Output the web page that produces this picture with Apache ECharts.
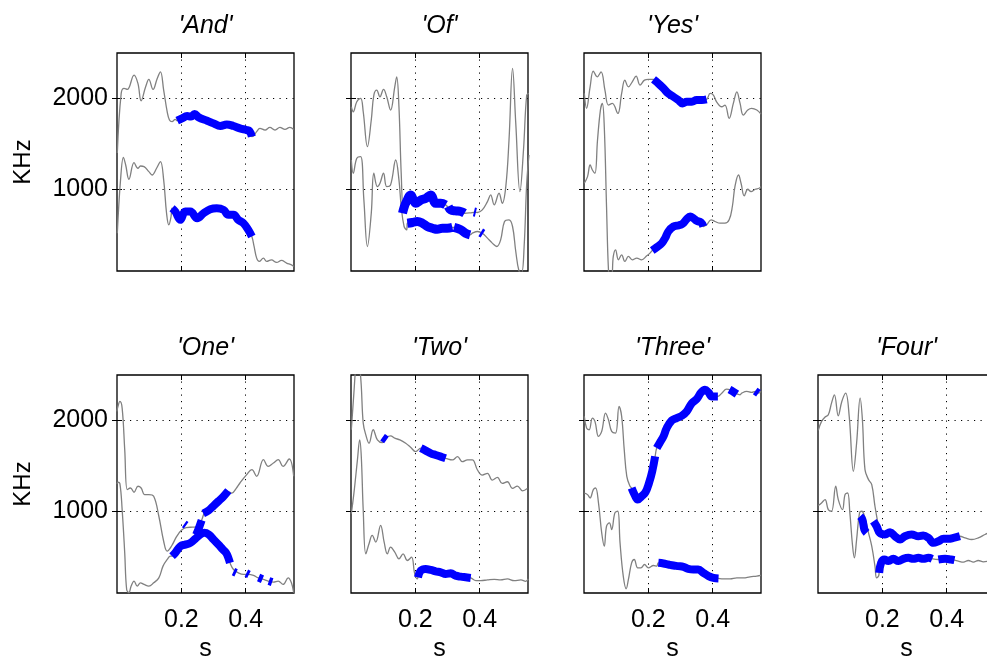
<!DOCTYPE html>
<html>
<head>
<meta charset="utf-8">
<script src="https://cdn.jsdelivr.net/npm/echarts@6/dist/echarts.min.js"></script>
<style>html,body{margin:0;padding:0;background:#fff}#c{width:987px;height:660px}</style>
</head>
<body>
<div id="c"></div>
<script>
// ---- tick labels / categories ----
const titles = ["'And'", "'Of'", "'Yes'", "'One'", "'Two'", "'Three'", "'Four'"];
const xTicks = [0.2, 0.4];
const yTicks = [1000, 2000];

// ---- 'And' ----
const andF2 = [[0.001,1400],[0.013,2055],[0.022,2110],[0.032,2099],[0.053,2256],[0.065,2165],[0.075,1974],[0.089,2128],[0.099,2209],[0.112,2099],[0.125,2220],[0.135,2293],[0.145,2092],[0.156,1853],[0.163,1762],[0.171,1744],[0.181,1769],[0.187,1755],[0.202,1780],[0.218,1806],[0.241,1828],[0.254,1791],[0.280,1755],[0.300,1725],[0.321,1696],[0.341,1714],[0.362,1696],[0.382,1670],[0.403,1652],[0.419,1579],[0.424,1585],[0.434,1634],[0.444,1670],[0.460,1652],[0.475,1681],[0.491,1652],[0.506,1681],[0.522,1659],[0.537,1681],[0.549,1659]];
const andF1 = [[0.001,516],[0.011,1103],[0.020,1352],[0.027,1267],[0.037,1110],[0.053,1293],[0.065,1231],[0.073,1256],[0.084,1249],[0.099,1194],[0.109,1157],[0.123,1231],[0.135,1304],[0.145,1103],[0.154,736],[0.161,608],[0.168,700],[0.171,791],[0.181,755],[0.197,663],[0.212,755],[0.228,755],[0.249,681],[0.269,736],[0.290,780],[0.310,791],[0.331,773],[0.346,718],[0.362,718],[0.377,663],[0.393,626],[0.408,553],[0.419,480],[0.426,370],[0.434,242],[0.442,205],[0.455,242],[0.465,205],[0.480,223],[0.496,194],[0.511,216],[0.527,187],[0.542,168],[0.549,150]];
const andB2 = [[0.187,1755],[0.202,1780],[0.218,1806],[0.230,1800],[0.241,1828],[0.254,1791],[0.280,1755],[0.300,1725],[0.321,1696],[0.341,1714],[0.362,1696],[0.382,1670],[0.403,1652],[0.412,1640],[0.419,1579]];
const andB1 = [[0.171,791],[0.181,755],[0.197,663],[0.212,755],[0.228,755],[0.249,681],[0.269,736],[0.290,780],[0.310,791],[0.331,773],[0.346,718],[0.362,718],[0.377,663],[0.393,626],[0.408,553],[0.419,480]];

// ---- 'Of' ----
const ofF2 = [[0.001,1908],[0.007,1853],[0.018,1963],[0.030,2000],[0.038,1853],[0.051,1469],[0.063,1762],[0.071,2037],[0.080,2092],[0.090,2018],[0.101,2099],[0.111,2018],[0.123,1872],[0.136,2128],[0.142,2238],[0.149,1908],[0.156,1176],[0.163,773],[0.170,846],[0.186,938],[0.201,846],[0.218,883],[0.233,901],[0.248,938],[0.263,846],[0.279,846],[0.294,828],[0.310,773],[0.325,762],[0.341,755],[0.353,736],[0.370,740],[0.385,747],[0.393,744],[0.408,773],[0.424,864],[0.434,938],[0.445,828],[0.460,956],[0.470,846],[0.481,1029],[0.491,1542],[0.502,2330],[0.512,1725],[0.525,974],[0.536,1432],[0.546,2037],[0.553,2055]];
const ofF1 = [[0.001,1322],[0.007,1176],[0.018,1341],[0.030,1359],[0.040,883],[0.051,370],[0.063,736],[0.071,1176],[0.082,1029],[0.090,1066],[0.101,1176],[0.111,1029],[0.123,1048],[0.139,1322],[0.149,1103],[0.156,810],[0.165,590],[0.173,553],[0.175,626],[0.191,634],[0.206,645],[0.222,626],[0.237,590],[0.253,571],[0.268,560],[0.284,571],[0.299,571],[0.315,579],[0.325,579],[0.341,553],[0.356,516],[0.370,498],[0.377,516],[0.393,535],[0.408,516],[0.424,462],[0.439,407],[0.453,370],[0.465,443],[0.477,645],[0.491,663],[0.502,590],[0.512,315],[0.522,100],[0.530,80],[0.538,370],[0.546,1066],[0.553,1377]];
const ofB2 = [[0.160,736],[0.165,800],[0.170,846],[0.186,938],[0.201,846],[0.218,883],[0.233,901],[0.248,938],[0.263,846],[0.279,846],[0.294,828],null,[0.302,810],[0.310,773],[0.325,762],[0.341,755],[0.353,736],null,[0.382,750],[0.388,745]];
const ofB1 = [[0.175,626],[0.191,634],[0.206,645],[0.222,626],[0.237,590],[0.253,571],[0.268,560],[0.284,571],[0.299,571],[0.315,579],null,[0.320,580],[0.341,553],[0.356,516],[0.370,498],null,[0.403,525],[0.410,510]];

// ---- 'Yes' ----
const yesF2 = [[0.001,2055],[0.008,1890],[0.019,2128],[0.029,2300],[0.041,2238],[0.053,2293],[0.065,2092],[0.076,1927],[0.088,1945],[0.105,1835],[0.117,2055],[0.127,2201],[0.138,2128],[0.150,2183],[0.162,2245],[0.174,2147],[0.188,2201],[0.200,2209],[0.216,2209],[0.231,2165],[0.247,2110],[0.262,2055],[0.278,2018],[0.293,1982],[0.306,1945],[0.319,1963],[0.335,1963],[0.350,1982],[0.366,1982],[0.381,1989],[0.392,2055],[0.402,2037],[0.412,1963],[0.428,1908],[0.438,1927],[0.451,1780],[0.464,1945],[0.475,2073],[0.485,1945],[0.495,1817],[0.509,1872],[0.521,1890],[0.537,1872],[0.550,1828]];
const yesF1 = [[0.001,1066],[0.011,1139],[0.019,1267],[0.026,1212],[0.034,1176],[0.042,1542],[0.051,1872],[0.057,1945],[0.063,1689],[0.070,810],[0.076,113],[0.080,50],[0.086,50],[0.091,260],[0.098,333],[0.107,223],[0.117,278],[0.127,205],[0.138,260],[0.150,223],[0.164,242],[0.179,223],[0.195,267],[0.205,297],[0.212,326],[0.226,362],[0.242,407],[0.252,462],[0.262,535],[0.278,590],[0.293,601],[0.306,619],[0.319,670],[0.330,700],[0.340,681],[0.350,652],[0.364,634],[0.371,590],[0.381,608],[0.395,663],[0.407,645],[0.423,626],[0.438,626],[0.451,663],[0.461,810],[0.469,1029],[0.480,1157],[0.488,1066],[0.498,927],[0.509,1000],[0.519,974],[0.532,1000],[0.544,1011],[0.550,1029]];
const yesB2 = [[0.216,2209],[0.231,2165],[0.247,2110],[0.262,2055],[0.278,2018],[0.293,1982],[0.306,1945],[0.319,1963],[0.335,1963],[0.350,1982],[0.366,1982],[0.381,1989]];
const yesB1 = [[0.212,326],[0.226,362],[0.242,407],[0.252,462],[0.262,535],[0.278,590],[0.293,601],[0.306,619],[0.319,670],[0.330,700],[0.340,681],[0.350,652],[0.364,634],[0.371,590]];

// ---- 'One' ----
const oneF2 = [[0.000,2100],[0.003,2154],[0.009,2209],[0.016,2136],[0.024,1678],[0.032,1238],[0.042,1256],[0.053,1209],[0.065,1275],[0.075,1256],[0.086,1183],[0.099,1183],[0.114,1165],[0.130,945],[0.145,670],[0.156,560],[0.170,620],[0.185,720],[0.200,790],[0.215,820],[0.235,825],[0.250,830],[0.258,860],[0.265,920],[0.271,975],[0.285,1010],[0.300,1060],[0.315,1110],[0.330,1160],[0.345,1215],[0.357,1200],[0.370,1250],[0.382,1311],[0.403,1403],[0.419,1458],[0.434,1385],[0.455,1568],[0.470,1494],[0.486,1531],[0.501,1568],[0.516,1494],[0.535,1575],[0.549,1385]];
const oneF1 = [[0.000,1300],[0.003,1319],[0.009,1304],[0.016,1018],[0.024,542],[0.030,139],[0.037,103],[0.044,176],[0.053,231],[0.063,176],[0.073,212],[0.084,194],[0.099,176],[0.114,212],[0.130,267],[0.143,396],[0.156,469],[0.166,505],[0.171,505],[0.181,542],[0.197,615],[0.212,633],[0.228,652],[0.243,696],[0.259,744],[0.271,762],[0.285,744],[0.300,689],[0.315,633],[0.329,579],[0.339,542],[0.346,487],[0.351,432],[0.362,359],[0.377,322],[0.393,304],[0.408,304],[0.424,293],[0.439,267],[0.455,249],[0.470,231],[0.486,220],[0.501,231],[0.516,194],[0.532,267],[0.542,212],[0.549,103]];
const oneB1 = [[0.171,505],[0.181,542],[0.197,615],[0.212,633],[0.228,652],[0.243,696],[0.259,744],[0.271,762],[0.285,744],[0.300,689],[0.315,633],[0.329,579],[0.339,542],[0.346,487],[0.351,432],null,[0.362,335],[0.370,322],null,[0.402,318],[0.410,304],null,[0.440,270],[0.452,252],null,[0.472,232],[0.482,220]];
const oneB2 = [[0.209,860],[0.215,845],null,[0.246,740],[0.255,820],[0.263,900],null,[0.268,975],[0.285,1010],[0.300,1060],[0.315,1110],[0.330,1160],[0.346,1225]];

// ---- 'Two' ----
const twoF2 = [[0.001,1897],[0.009,2303],[0.015,2600],[0.021,2750],[0.027,2600],[0.032,2376],[0.038,1970],[0.046,1841],[0.056,1749],[0.069,1897],[0.082,1786],[0.097,1756],[0.111,1815],[0.123,1830],[0.136,1804],[0.152,1786],[0.170,1749],[0.185,1705],[0.201,1657],[0.217,1694],[0.232,1660],[0.248,1630],[0.263,1610],[0.279,1594],[0.294,1583],[0.315,1565],[0.331,1601],[0.346,1546],[0.362,1565],[0.377,1565],[0.393,1454],[0.408,1398],[0.424,1417],[0.439,1343],[0.455,1373],[0.470,1306],[0.486,1325],[0.502,1251],[0.517,1277],[0.533,1225],[0.548,1251]];
const twoF1 = [[0.001,974],[0.009,1196],[0.020,1565],[0.027,1786],[0.032,1601],[0.038,1011],[0.046,531],[0.056,642],[0.066,734],[0.077,660],[0.092,845],[0.103,660],[0.113,531],[0.123,605],[0.136,550],[0.149,476],[0.162,531],[0.175,458],[0.188,494],[0.198,310],[0.206,255],[0.208,273],[0.217,347],[0.232,365],[0.248,354],[0.263,339],[0.279,328],[0.294,310],[0.310,317],[0.325,291],[0.341,280],[0.356,273],[0.372,266],[0.388,236],[0.403,236],[0.424,244],[0.445,251],[0.465,244],[0.486,255],[0.507,236],[0.528,244],[0.543,229],[0.551,255]];
const twoB2 = [[0.098,1815],[0.104,1800],[0.110,1785],null,[0.217,1694],[0.232,1668],[0.248,1638],[0.263,1620],[0.279,1601],[0.294,1583]];
const twoB1 = [[0.208,273],[0.217,347],[0.232,365],[0.248,354],[0.263,339],[0.279,328],[0.294,310],[0.310,317],[0.325,291],[0.341,280],[0.356,273],[0.372,266]];

// ---- 'Three' ----
const threeF2 = [[0.001,2044],[0.008,1916],[0.016,1897],[0.026,2026],[0.034,1989],[0.045,1824],[0.055,1879],[0.067,2081],[0.076,2007],[0.086,1879],[0.098,1861],[0.109,2154],[0.117,2044],[0.125,1678],[0.133,1385],[0.143,1275],[0.148,1256],[0.157,1183],[0.167,1128],[0.179,1165],[0.191,1209],[0.202,1311],[0.212,1440],[0.221,1604],[0.226,1696],[0.236,1758],[0.247,1824],[0.257,1916],[0.273,2000],[0.288,2026],[0.304,2051],[0.319,2099],[0.335,2190],[0.350,2234],[0.364,2308],[0.376,2337],[0.387,2308],[0.397,2264],[0.416,2264],[0.428,2300],[0.443,2344],[0.454,2337],[0.470,2300],[0.485,2282],[0.490,2300],[0.506,2319],[0.521,2308],[0.532,2319],[0.542,2300],[0.550,2319]];
const threeF1 = [[0.001,1201],[0.011,1183],[0.019,1147],[0.029,1238],[0.036,1256],[0.045,1092],[0.055,762],[0.063,615],[0.070,835],[0.079,872],[0.086,799],[0.096,982],[0.105,1000],[0.112,652],[0.122,286],[0.131,147],[0.138,249],[0.148,432],[0.156,469],[0.167,377],[0.177,377],[0.188,414],[0.200,377],[0.216,403],[0.226,396],[0.231,432],[0.247,425],[0.262,414],[0.278,403],[0.293,396],[0.309,388],[0.324,366],[0.340,359],[0.355,359],[0.371,322],[0.387,286],[0.402,267],[0.418,260],[0.433,256],[0.454,256],[0.475,267],[0.495,267],[0.516,278],[0.537,286],[0.550,293]];
const threeB2 = [[0.148,1256],[0.157,1183],[0.167,1128],[0.179,1165],[0.191,1209],[0.202,1311],[0.212,1440],[0.221,1604],null,[0.226,1696],[0.236,1758],[0.247,1824],[0.257,1916],[0.273,2000],[0.288,2026],[0.304,2051],[0.319,2099],[0.335,2190],[0.350,2234],[0.364,2308],[0.376,2337],[0.387,2308],[0.397,2264],[0.416,2264],null,[0.452,2340],[0.462,2320],[0.475,2290],null,[0.532,2325],[0.542,2300]];
const threeB1 = [[0.231,432],[0.247,425],[0.262,414],[0.278,403],[0.293,396],[0.309,388],[0.324,366],[0.340,359],[0.355,359],[0.371,322],[0.387,286],[0.402,267],[0.418,260]];

// ---- 'Four' ----
const fourF2 = [[0.001,1890],[0.011,1989],[0.022,2037],[0.032,2062],[0.042,2190],[0.051,2282],[0.063,2051],[0.074,2209],[0.086,2300],[0.097,2044],[0.110,1440],[0.120,1751],[0.131,2245],[0.138,2007],[0.146,1458],[0.157,1348],[0.167,1293],[0.177,1055],[0.186,872],[0.192,762],[0.208,744],[0.224,769],[0.239,725],[0.255,689],[0.270,725],[0.291,744],[0.312,725],[0.327,733],[0.343,707],[0.359,652],[0.374,670],[0.390,696],[0.405,696],[0.421,707],[0.441,725],[0.457,707],[0.478,689],[0.498,707],[0.519,744],[0.530,762]];
const fourF1 = [[0.001,1062],[0.011,1092],[0.022,1128],[0.032,1018],[0.042,1000],[0.055,1275],[0.063,1128],[0.076,1018],[0.084,1183],[0.092,1201],[0.099,982],[0.107,634],[0.113,487],[0.120,689],[0.129,982],[0.136,1000],[0.146,927],[0.157,762],[0.167,615],[0.177,396],[0.182,267],[0.188,286],[0.190,322],[0.196,432],[0.206,469],[0.219,451],[0.234,476],[0.250,451],[0.265,476],[0.281,487],[0.296,476],[0.312,487],[0.327,476],[0.343,487],[0.355,476],[0.374,469],[0.395,476],[0.413,469],[0.424,462],[0.436,451],[0.452,440],[0.467,458],[0.483,440],[0.498,458],[0.514,443],[0.530,451]];
const fourB2 = [[0.131,945],[0.138,908],[0.144,799],[0.151,762],null,[0.172,890],[0.182,835],[0.192,762],[0.208,744],[0.224,769],[0.239,725],[0.255,689],[0.270,725],[0.291,744],[0.312,725],[0.327,733],[0.343,707],[0.359,652],[0.374,670],[0.390,696],[0.405,696],[0.421,707],[0.441,725]];
const fourB1 = [[0.190,322],[0.196,432],[0.206,469],[0.219,451],[0.234,476],[0.250,451],[0.265,476],[0.281,487],[0.296,476],[0.312,487],[0.327,476],[0.343,487],[0.355,476],null,[0.374,469],[0.395,476],[0.413,469],[0.424,462]];

// ---- layout ----
const panels = [
  {row:0, col:0, gray:[andF1, andF2], blue:[andB1, andB2]},
  {row:0, col:1, gray:[ofF1, ofF2], blue:[ofB1, ofB2]},
  {row:0, col:2, gray:[yesF1, yesF2], blue:[yesB1, yesB2]},
  {row:1, col:0, gray:[oneF1, oneF2], blue:[oneB1, oneB2]},
  {row:1, col:1, gray:[twoF1, twoF2], blue:[twoB1, twoB2]},
  {row:1, col:2, gray:[threeF1, threeF2], blue:[threeB1, threeB2]},
  {row:1, col:3, gray:[fourF1, fourF2], blue:[fourB1, fourB2]}
];
const lefts = [117, 351, 584, 818];
const tops = [53, 375];
const W = 177, H = 218;
const FONT = "'Liberation Sans', Arial, Helvetica, sans-serif";

const grid = [], xAxis = [], yAxis = [], series = [], graphic = [];
panels.forEach((p, i) => {
  const left = lefts[p.col], top = tops[p.row];
  grid.push({left: left, top: top, width: W, height: H, show: true, borderColor: '#000', borderWidth: 1.3,
    backgroundColor: 'transparent', outerBoundsMode: 'none', containLabel: false});
  const tick = {show: true, inside: true, length: 5, lineStyle: {color: '#000', width: 1}};
  const split = {show: true, lineStyle: {color: '#000', width: 1, type: [1.2, 5.3]}};
  xAxis.push({
    type: 'value', gridIndex: i, position: 'bottom', min: 0, max: 0.55,
    axisLine: {show: false},
    axisTick: Object.assign({customValues: xTicks}, tick),
    axisLabel: {show: p.row === 1, customValues: xTicks, formatter: v => v.toFixed(1), fontSize: 25, color: '#000', margin: 15, fontFamily: FONT},
    splitLine: split,
    name: p.row === 1 ? 's' : '', nameLocation: 'middle', nameGap: 44,
    nameTextStyle: {fontSize: 25, color: '#000', fontFamily: FONT}
  });
  xAxis.push({
    type: 'value', gridIndex: i, position: 'top', min: 0, max: 0.55,
    axisLine: {show: false}, axisTick: Object.assign({customValues: xTicks}, tick),
    axisLabel: {show: false}, splitLine: {show: false}
  });
  yAxis.push({
    type: 'value', gridIndex: i, position: 'left', min: 100, max: 2500,
    axisLine: {show: false},
    axisTick: Object.assign({customValues: yTicks}, tick),
    axisLabel: {show: p.col === 0, customValues: yTicks, formatter: v => String(v), fontSize: 25, color: '#000', margin: 9, fontFamily: FONT},
    splitLine: split,
    name: p.col === 0 ? 'KHz' : '', nameLocation: 'middle', nameGap: 82, nameRotate: 90,
    nameTextStyle: {fontSize: 24, color: '#000', fontFamily: FONT}
  });
  yAxis.push({
    type: 'value', gridIndex: i, position: 'right', min: 100, max: 2500,
    axisLine: {show: false}, axisTick: Object.assign({customValues: yTicks}, tick),
    axisLabel: {show: false}, splitLine: {show: false}
  });
  p.gray.forEach(d => series.push({
    type: 'line', xAxisIndex: 2 * i, yAxisIndex: 2 * i, data: d, showSymbol: false, smooth: 0.4,
    lineStyle: {color: '#808080', width: 1.3}, silent: true, z: 2
  }));
  p.blue.forEach(d => series.push({
    type: 'line', xAxisIndex: 2 * i, yAxisIndex: 2 * i, data: d, showSymbol: false, smooth: 0.4,
    connectNulls: false,
    lineStyle: {color: '#0000ff', width: i === 1 ? 9 : 8, cap: 'butt', join: 'round'}, silent: true, z: 3
  }));
  graphic.push({
    type: 'text', x: left + W / 2, y: top - 39,
    style: {text: titles[i], textAlign: 'center', textVerticalAlign: 'top', fontSize: 25, fontStyle: 'italic', fontFamily: FONT, fill: '#000'}
  });
});

const chart = echarts.init(document.getElementById('c'), null, {renderer: 'canvas'});
chart.setOption({animation: false, backgroundColor: '#fff', grid, xAxis, yAxis, series, graphic});
</script>
</body>
</html>
